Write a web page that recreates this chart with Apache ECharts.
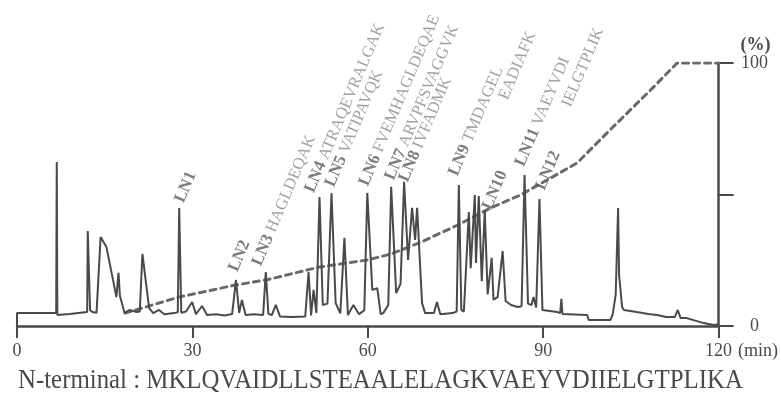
<!DOCTYPE html>
<html>
<head>
<meta charset="utf-8">
<script src="https://cdn.jsdelivr.net/npm/echarts@6/dist/echarts.min.js"></script>
<style>
html, body { margin: 0; padding: 0; background: #fff; }
#chart { width: 781px; height: 405px; }
</style>
</head>
<body>
<div id="chart"></div>
<script>
// chromatogram trace: [retention time (min), signal in % of the right scale]
var chromatogram = [
  [0,0],[0,4.9],[6.7,4.9],[6.8,62.4],[6.9,4.2],[9,4.6],[12.0,5.3],[12.1,36.1],[12.5,6],[12.9,5.3],
  [13.6,5.0],[14.3,33.8],[15.3,30.0],[16.2,20],[17.0,11.0],[17.36,20.2],[17.6,11.5],[17.9,11.0],[18.4,4.9],
  [19.2,6.1],[20.5,5.3],[21.0,5.5],[21.45,27.4],[22.6,6.8],[23.3,4.9],[24.3,6.1],[25.2,4.5],[26.9,4.9],
  [27.5,5.2],[27.74,44.9],[28.1,5.0],[28.9,5.5],[29.96,9.1],[30.6,4.5],[31.66,7.6],[32.5,4.2],[34,4.5],
  [35.5,4.0],[36.8,4.6],[37.45,17.5],[38.0,5],[38.47,9.9],[39.1,4.2],[40.5,4.5],[42.1,4.2],[42.55,20.5],
  [43.0,4.6],[43.6,4.2],[44.26,8.0],[45.0,3.6],[47,3.4],[49.3,3.6],[49.87,20.5],[50.3,4.0],[50.72,13.7],
  [51.2,5],[51.74,49.0],[52.3,8.0],[53.1,8.5],[53.79,50.6],[54.5,8.7],[55.3,4.8],[56.0,33.5],[56.6,4.2],
  [57.53,8.0],[58.5,4.5],[59.4,6],[59.91,50.6],[60.77,13.7],[61.62,14.4],[62.2,4.5],[62.64,4.9],[63.5,8],
  [64.0,52.9],[64.85,12.5],[65.6,16],[66.21,54.8],[66.89,25.1],[67.57,44.9],[68.09,32.7],[68.43,44.9],
  [69.28,8.7],[69.8,4.9],[71.3,4.9],[71.83,9.1],[72.4,4.5],[74.5,4.9],[75.2,5.5],[75.57,53.6],[76.0,6],
  [76.43,5.5],[77.28,43.3],[77.6,22],[78.3,49.8],[78.5,24],[78.98,49.4],[79.49,17],[80.0,44.1],[80.5,12],
  [81.19,25.9],[81.5,10],[82.2,11],[83.06,28.5],[83.57,9.5],[84.5,8.0],[85.62,7.2],[86.3,7.5],[86.81,57.4],
  [87.4,8.5],[88.0,8.0],[88.34,11.0],[88.8,7],[89.36,48.3],[89.87,6.1],[92.4,5.3],[92.9,4.9],[93.11,10.3],
  [93.3,4.6],[97.5,4.2],[97.8,2.3],[101.5,2.3],[101.9,4.5],[102.4,12],[102.81,44.9],[102.98,19.4],
  [103.5,7.2],[103.8,6.1],[106,5.3],[108,4.6],[109.5,4.2],[111,3.4],[112.5,3.4],[113.02,6.1],[113.5,3.0],
  [114.55,3.0],[117.45,1.1],[119.15,0.4],[119.66,0.6],[120,0]
];

// solvent gradient (%), dashed line
var gradTime    = [18.5, 27.7, 37.4, 42.6, 51.7, 59.9, 64.0, 69.1, 75.4, 81.0, 86.1, 92.8, 95.8, 101.4, 108.9, 112.9, 120];
var gradPercent = [4.9, 11.0, 15.6, 17.5, 22.4, 25.1, 27.4, 31.9, 38.4, 44.9, 49.8, 58.2, 62.0, 74.5, 90.9, 100, 100];

// peak labels, start of each text in data units
var labelText = [
  'LN1', 'LN2', 'LN3 HAGLDEQAK', 'LN4 ATRAQEVRALGAK', 'LN5 VATIPAVQK', 'LN6 FVEMHAGLDEQAE',
  'LN7 ARVPFSVAGGVK', 'LN8 IVFADMK', 'LN9 TMDAGEL', 'EADIAFK', 'LN10', 'LN11 VAEYVDI', 'IELGTPLIK', 'LN12'
];
var labelTime  = [27.8, 37.0, 41.0, 50.0, 53.5, 59.3, 63.7, 66.1, 74.6, 83.2, 80.4, 86.0, 94.0, 89.5];
var labelLevel = [47.2, 21.0, 23.2, 51.0, 53.2, 53.6, 55.8, 55.1, 57.4, 86.3, 44.5, 61.0, 83.6, 52.0];

var timeTicks = [0, 30, 60, 90, 120];
var percentTicks = [0, 100];
var sequenceText = 'N-terminal : MKLQVAIDLLSTEAALELAGKVAEYVDIIELGTPLIKA';

var serif = '"Liberation Serif", "Times New Roman", serif';
var ink = '#4a4a4a';

var myChart = echarts.init(document.getElementById('chart'));

var gradData = gradTime.map(function (t, i) { return [t, gradPercent[i]]; });
var labelData = labelTime.map(function (t, i) { return [t, labelLevel[i]]; });

var option = {
    animation: false,
    backgroundColor: '#fff',
    grid: { left: 17, right: 59, top: 63, bottom: 79 },
    xAxis: {
        type: 'value',
        min: 0,
        max: 120,
        interval: 30,
        name: '(min)',
        nameLocation: 'end',
        nameGap: 11,
        nameTextStyle: { color: ink, fontFamily: serif, fontSize: 18, align: 'left', verticalAlign: 'top', padding: [16, 0, 0, 0] },
        axisLine: { lineStyle: { color: ink, width: 2.5 } },
        axisTick: { length: 12, lineStyle: { color: ink, width: 2 } },
        axisLabel: {
            margin: 16, color: ink, fontFamily: serif, fontSize: 18,
            formatter: function (v) { return timeTicks.indexOf(v) >= 0 ? String(v) : ''; }
        },
        splitLine: { show: false }
    },
    yAxis: {
        type: 'value',
        position: 'right',
        min: 0,
        max: 100,
        interval: 50,
        name: '(%)',
        nameLocation: 'end',
        nameGap: 8,
        nameTextStyle: { color: ink, fontFamily: serif, fontSize: 18, fontWeight: 'bold', align: 'left', padding: [0, 0, 0, 22] },
        axisLine: { show: true, onZero: false, lineStyle: { color: ink, width: 2.5 } },
        axisTick: { show: true, inside: false, length: 15, lineStyle: { color: ink, width: 2 } },
        axisLabel: {
            inside: false, margin: 36, align: 'center', color: ink, fontFamily: serif, fontSize: 18,
            formatter: function (v) { return percentTicks.indexOf(v) >= 0 ? String(v) : ''; }
        },
        splitLine: { show: false }
    },
    series: [
        {
            name: 'gradient',
            type: 'line',
            data: gradData,
            symbol: 'none',
            lineStyle: { color: '#6a6a6a', width: 3, type: [6, 5], cap: 'round' },
            z: 1
        },
        {
            name: 'trace',
            type: 'line',
            data: chromatogram,
            symbol: 'none',
            lineStyle: { color: ink, width: 2 },
            z: 2
        },
        {
            name: 'labels',
            type: 'scatter',
            data: labelData,
            symbolSize: 1,
            itemStyle: { color: 'rgba(0,0,0,0)' },
            label: {
                show: true,
                position: 'inside',
                align: 'left',
                verticalAlign: 'middle',
                rotate: 67,
                formatter: function (p) {
                    var s = labelText[p.dataIndex];
                    var m = s.match(/^(LN\d+)(.*)$/);
                    if (m) {
                        return '{ln|' + m[1] + '}' + (m[2] ? '{seq|' + m[2] + '}' : '');
                    }
                    return '{seq|' + s + '}';
                },
                rich: {
                    ln: { fontFamily: serif, fontSize: 17, fontWeight: 'bold', color: '#5c5c5c' },
                    seq: { fontFamily: serif, fontSize: 16.5, color: '#8a8a8a' }
                }
            },
            z: 3
        }
    ],
    graphic: [
        {
            type: 'text',
            left: 18,
            top: 367,
            scaleX: 0.92,
            style: { text: sequenceText, font: '27px ' + serif, fill: ink }
        }
    ]
};

myChart.setOption(option);
</script>
</body>
</html>
